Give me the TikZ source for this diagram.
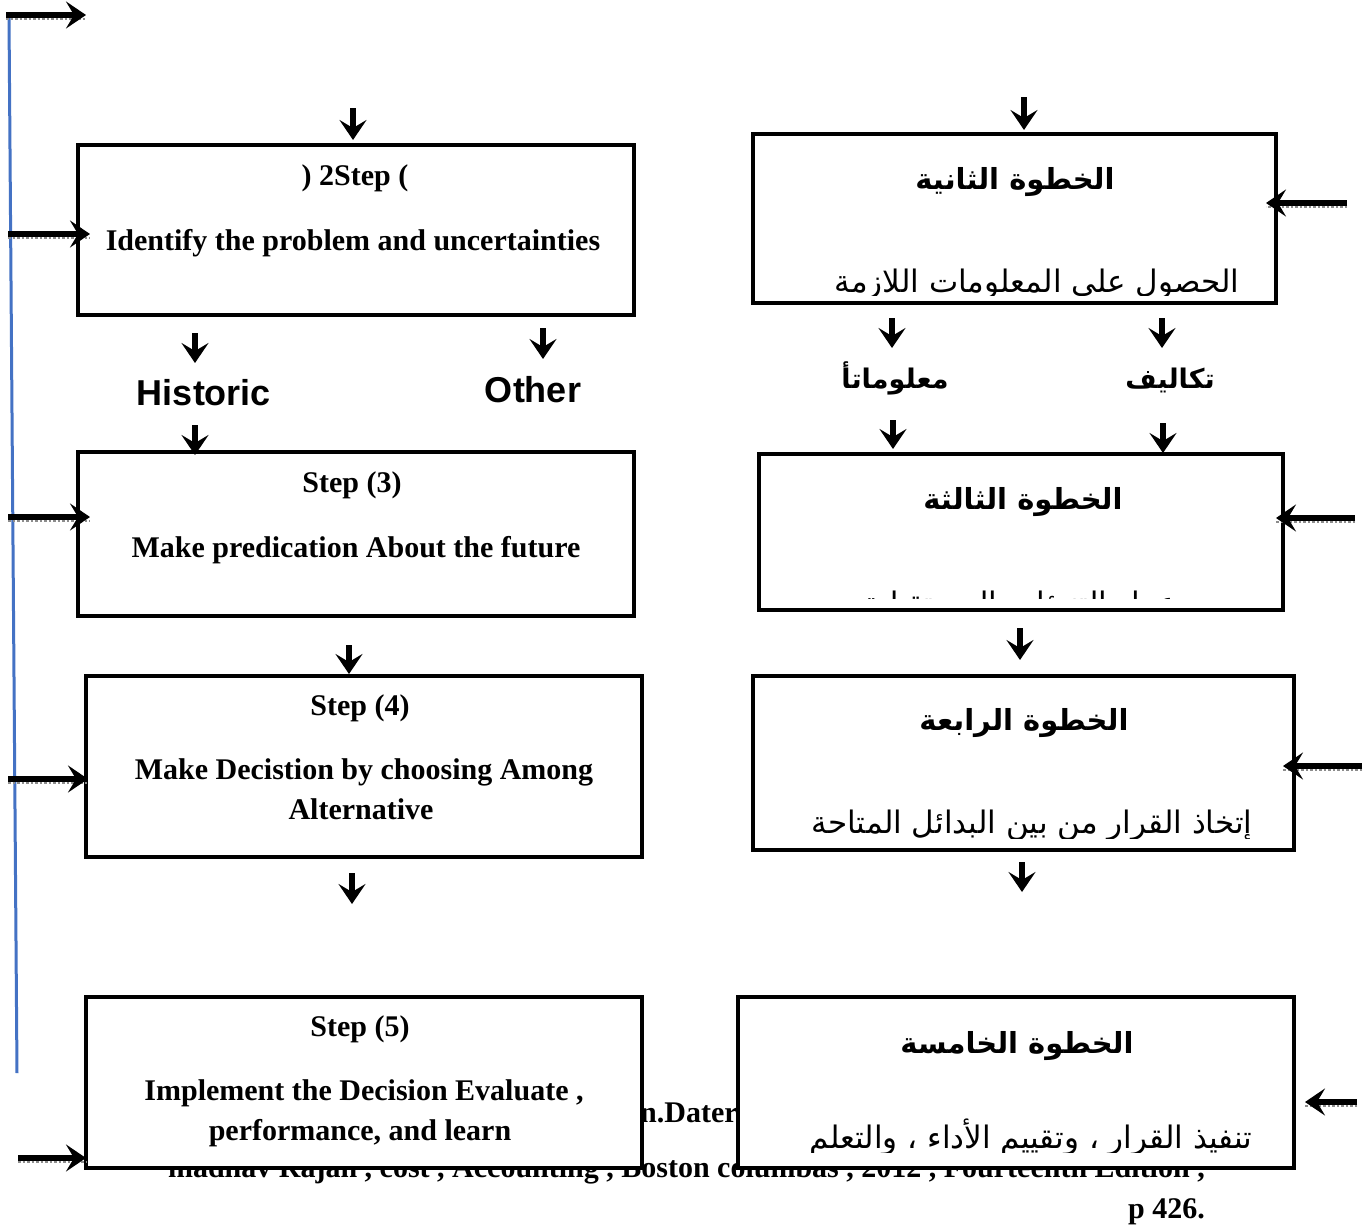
\documentclass[tikz,border=0pt]{standalone}
\usepackage{fontspec}
\setmainfont{Liberation Serif}
\newfontfamily\arialfont{Liberation Sans}
\newfontfamily\arabicfont[Script=Arabic]{DejaVu Sans}
\TeXXeTstate=1
\usetikzlibrary{arrows.meta}
\definecolor{wordblue}{RGB}{68,114,196}
\begin{document}
\begin{tikzpicture}[x=1pt,y=-1pt,
  box/.style={draw=black, line width=4.5pt, fill=white, rectangle, inner sep=0pt},
  en/.style={font=\fontsize{30}{40}\selectfont\bfseries, anchor=base, inner sep=0pt},
  lab/.style={font=\arialfont\fontsize{36}{40}\selectfont\bfseries, anchor=base, inner sep=0pt},
  artitle/.style={font=\arabicfont\fontsize{29}{34}\selectfont\bfseries, anchor=base, inner sep=0pt},
  arlab/.style={font=\arabicfont\fontsize{27}{34}\selectfont\bfseries, anchor=base, inner sep=0pt},
  arbody/.style={font=\arabicfont\fontsize{31}{36}\selectfont, anchor=base, inner sep=0pt},
  arr/.style={line width=5.5pt, -{Stealth[length=20pt,width=27pt,inset=8pt]}},
  shad/.style={draw=black!45, line width=2.5pt, dotted},
  blueline/.style={draw=wordblue, line width=3pt}
]
\useasboundingbox (0,0) rectangle (1371,1226);
\fill[white] (0,0) rectangle (1371,1226);

% footnote text (partly hidden behind the boxes)
\node[en, anchor=base east] (ref1) at (1205,1177) {madhav Rajan , cost , Accounting , Boston columbas , 2012 , Fourteenth Edition ,};
\node[en, anchor=base west] (ref0) at (640,1122) {n.Dater};
\node[en, anchor=base east] (ref2) at (1205,1218) {p 426.};

% blue feedback line
\coordinate (bl1) at (9,17);
\coordinate (bl2) at (17,1073);
\draw[blueline] (bl1) -- (bl2);

% boxes
\node[box, minimum width=556pt, minimum height=170pt] (L2) at (356,230) {};
\node[box, minimum width=556pt, minimum height=164pt] (L3) at (356,534) {};
\node[box, minimum width=556pt, minimum height=181pt] (L4) at (364,766.5) {};
\node[box, minimum width=556pt, minimum height=171pt] (L5) at (364,1082.5) {};
\node[box, minimum width=523pt, minimum height=169pt] (R2) at (1014.5,218.5) {};
\node[box, minimum width=524pt, minimum height=156pt] (R3) at (1021,532) {};
\node[box, minimum width=541pt, minimum height=174pt] (R4) at (1023.5,763) {};
\node[box, minimum width=556pt, minimum height=171pt] (R5) at (1016,1082.5) {};

% left texts
\node[en] (L2a) at (355,185) {) 2Step (};
\node[en] (L2b) at (353,250) {Identify the problem and uncertainties};
\node[en] (L3a) at (352,492) {Step (3)};
\node[en] (L3b) at (356,557) {Make predication About the future};
\node[en] (L4a) at (360,715) {Step (4)};
\node[en] (L4b) at (364,779) {Make Decistion by choosing Among};
\node[en] (L4c) at (361,819) {Alternative};
\node[en] (L5a) at (360,1036) {Step (5)};
\node[en] (L5b) at (364,1100) {Implement the Decision Evaluate ,};
\node[en] (L5c) at (360,1140) {performance, and learn};

\node[lab] (hist) at (204,405) {Historic};
\node[lab] (other) at (533,402) {Other};

% right texts
\node[artitle] (R2a) at (1015,189) {\beginR الخطوة الثانية\endR};
\begin{scope}
  \clip (755,136) rectangle (1274,295);
  \node[arbody] (R2b) at (1037,292) {\beginR الحصول على المعلومات اللازمة\endR};
\end{scope}
\node[artitle] (R3a) at (1023,509) {\beginR الخطوة الثالثة\endR};
\begin{scope}
  \clip (761,456) rectangle (1281,598);
  \node[arbody] (R3b) at (1020,614) {\beginR عمل التنبؤات المستقبلية\endR};
\end{scope}
\node[artitle] (R4a) at (1024,730) {\beginR الخطوة الرابعة\endR};
\begin{scope}
  \clip (755,678) rectangle (1292,838);
  \node[arbody] (R4b) at (1032,833) {\beginR إتخاذ القرار  من بين البدائل المتاحة\endR};
\end{scope}
\node[artitle] (R5a) at (1017,1053) {\beginR الخطوة الخامسة\endR};
\begin{scope}
  \clip (740,999) rectangle (1292,1152);
  \node[arbody] (R5b) at (1031,1148) {\beginR تنفيذ القرار  ، وتقييم الأداء ، والتعلم\endR};
\end{scope}

\node[arlab] (mal) at (895,388) {\beginR معلوماتأ\endR};
\node[arlab] (tak) at (1170,388) {\beginR تكاليف\endR};

% horizontal arrows from the left
\coordinate (a0s) at (6,15);    \coordinate (a0e) at (86,15);
\coordinate (a1s) at (8,234);   \coordinate (a1e) at (90,234);
\coordinate (a2s) at (8,517);   \coordinate (a2e) at (90,517);
\coordinate (a3s) at (8,779);   \coordinate (a3e) at (88,779);
\coordinate (a4s) at (18,1158); \coordinate (a4e) at (86,1158);
% horizontal arrows from the right
\coordinate (b1s) at (1347,203); \coordinate (b1e) at (1266,203);
\coordinate (b2s) at (1355,518); \coordinate (b2e) at (1276,518);
\coordinate (b3s) at (1362,766); \coordinate (b3e) at (1283,766);
\coordinate (b4s) at (1357,1102); \coordinate (b4e) at (1305,1102);

\foreach \s/\e in {a0s/a0e,a1s/a1e,a2s/a2e,a3s/a3e,a4s/a4e,b1s/b1e,b2s/b2e,b3s/b3e,b4s/b4e}{
  \draw[shad] ([yshift=-4pt]\s) -- ([yshift=-4pt]\e);
  \draw[arr] (\s) -- (\e);
}

% vertical arrows
\coordinate (v1s) at (353,108);  \coordinate (v1e) at (353,140);
\coordinate (v2s) at (195,333);  \coordinate (v2e) at (195,363);
\coordinate (v3s) at (543,328);  \coordinate (v3e) at (543,359);
\coordinate (v4s) at (195,425);  \coordinate (v4e) at (195,455);
\coordinate (v5s) at (349,645);  \coordinate (v5e) at (349,674);
\coordinate (v6s) at (352,873);  \coordinate (v6e) at (352,904);
\coordinate (w1s) at (1024,97);  \coordinate (w1e) at (1024,130);
\coordinate (w2s) at (892,318);  \coordinate (w2e) at (892,348);
\coordinate (w3s) at (1162,318); \coordinate (w3e) at (1162,348);
\coordinate (w4s) at (893,420);  \coordinate (w4e) at (893,449);
\coordinate (w5s) at (1163,423); \coordinate (w5e) at (1163,453);
\coordinate (w6s) at (1020,628); \coordinate (w6e) at (1020,660);
\coordinate (w7s) at (1022,862); \coordinate (w7e) at (1022,892);
\foreach \s/\e in {v1s/v1e,v2s/v2e,v3s/v3e,v4s/v4e,v5s/v5e,v6s/v6e,w1s/w1e,w2s/w2e,w3s/w3e,w4s/w4e,w5s/w5e,w6s/w6e,w7s/w7e}{
  \draw[arr] (\s) -- (\e);
}
\end{tikzpicture}
\end{document}
